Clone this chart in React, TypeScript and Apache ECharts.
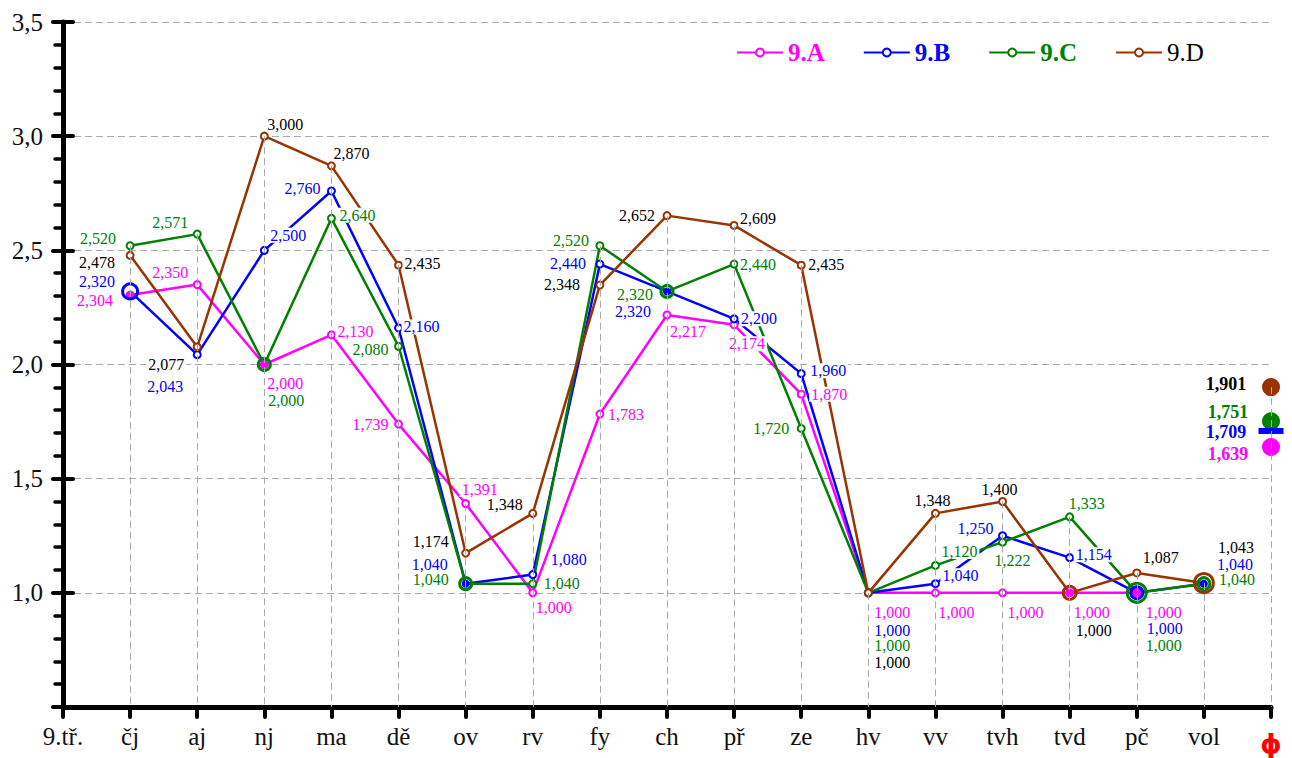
import React, { useEffect, useRef } from 'react';
import * as echarts from 'echarts';

const FONT = 'Liberation Serif';

const categories = ['9.tř.', 'čj', 'aj', 'nj', 'ma', 'dě', 'ov', 'rv', 'fy', 'ch', 'př', 'ze', 'hv', 'vv', 'tvh', 'tvd', 'pč', 'vol', 'ϕ'];
const subjects = ['čj', 'aj', 'nj', 'ma', 'dě', 'ov', 'rv', 'fy', 'ch', 'př', 'ze', 'hv', 'vv', 'tvh', 'tvd', 'pč', 'vol'];
const avgCategory = 'ϕ';

const classA: (number | null)[] = [2.304, 2.350, 2.000, 2.130, 1.739, 1.391, 1.000, 1.783, 2.217, 2.174, 1.870, 1.000, 1.000, 1.000, 1.000, 1.000, null];
const classB: (number | null)[] = [2.320, 2.043, 2.500, 2.760, 2.160, 1.040, 1.080, 2.440, 2.320, 2.200, 1.960, 1.000, 1.040, 1.250, 1.154, 1.000, 1.040];
const classC: (number | null)[] = [2.520, 2.571, 2.000, 2.640, 2.080, 1.040, 1.040, 2.520, 2.320, 2.440, 1.720, 1.000, 1.120, 1.222, 1.333, 1.000, 1.040];
const classD: (number | null)[] = [2.478, 2.077, 3.000, 2.870, 2.435, 1.174, 1.348, 2.348, 2.652, 2.609, 2.435, 1.000, 1.348, 1.400, 1.000, 1.087, 1.043];

const classNames = ['9.A', '9.B', '9.C', '9.D'];
const averages = [1.639, 1.709, 1.751, 1.901];

// ---- styles (positions of labels, marker styles) ----
const lineColors = ['#ff00ff', '#0000ff', '#008000', '#993300'];
const labelColors = ['#ff00ff', '#0000ff', '#008000', '#000000'];

const offA: ([number, number] | null)[] = [[-35, 5], [-27, -12], [21, 19], [24, -3], [-28, 0], [14, -14], [21, 15], [26, 0], [21, 17], [13, 19], [28, 0], [24, 20], [21, 20], [23, 20], [22, 20], [27, 20], null];
const offB: ([number, number] | null)[] = [[-33, -10], [-32, 32], [24, -15], [-29, -2], [23, -1], [-36, -19], [36, -15], [-32, -1], [-34, 20], [25, 0], [27, -3], [24, 38], [25, -8], [-27, -7], [24, -3], [28, 36], [31, -19]];
const offC: ([number, number] | null)[] = [[-32, -7], [-27, -12], [22, 36], [26, -3], [-28, 3], [-35, -4], [29, 0], [-29, -5], [-32, 3], [24, 0], [-30, 0], [24, 53], [24, -14], [10, 18], [17, -13], [27, 53], [33, -4]];
const offD: ([number, number] | null)[] = [[-33, 7], [-31, 18], [21, -12], [20, -12], [24, -2], [-35, -12], [-28, -9], [-38, -1], [-30, 0], [24, -7], [25, -1], [24, 70], [-3, -13], [-3, -12], [24, 38], [24, -15], [32, -36]];
const avgOffsets: [number, number][] = [[-43, 7], [-45, 1], [-43, -9], [-45, -3]];

type Mark = [string, number];
const markA: Record<string, Mark> = { 'čj': ['dot', 9], 'nj': ['dot', 9], 'tvd': ['dot', 9], 'pč': ['dot', 9] };
const markB: Record<string, Mark> = { 'čj': ['ring', 15], 'ov': ['dot', 8], 'ch': ['dot', 8], 'pč': ['ring', 12], 'vol': ['dot', 8] };
const markC: Record<string, Mark> = { 'nj': ['ring', 12], 'ov': ['ring', 12], 'ch': ['ring', 12], 'pč': ['ring', 19], 'vol': ['ring', 12] };
const markD: Record<string, Mark> = { 'tvd': ['ring', 13], 'vol': ['ring', 19] };

const fmt = (v: number) => v.toFixed(3).replace('.', ',');

function buildOption() {
  const all = [classA, classB, classC, classD];
  const offs = [offA, offB, offC, offD];
  const marks = [markA, markB, markC, markD];

  const lineSeries = all.map((vals, k) => {
    const color = lineColors[k];
    const data: any[] = [];
    subjects.forEach((s, i) => {
      const v = vals[i];
      if (v == null) return;
      const m = marks[k][s];
      if (!m) {
        data.push({ value: [s, v] });
      } else if (m[0] === 'dot') {
        data.push({ value: [s, v], symbol: 'circle', symbolSize: m[1], itemStyle: { color, borderWidth: 0 } });
      } else {
        data.push({ value: [s, v], symbol: 'circle', symbolSize: m[1], itemStyle: { color: 'rgba(255,255,255,0)', borderColor: color, borderWidth: 3 } });
      }
    });
    return {
      type: 'line',
      name: classNames[k],
      z: 2,
      data,
      symbol: 'emptyCircle',
      symbolSize: 7,
      lineStyle: { width: 2.5, color },
      itemStyle: { color },
      emphasis: { disabled: true },
      silent: true,
      animation: false,
    };
  });

  const labelSeries = all.map((vals, k) => {
    const data: any[] = [];
    subjects.forEach((s, i) => {
      const v = vals[i];
      if (v == null) return;
      data.push({ value: [s, v], label: { offset: offs[k][i] || [0, 0] } });
    });
    return {
      type: 'scatter',
      name: classNames[k] + ' labels',
      z: 3,
      silent: true,
      symbolSize: 1,
      itemStyle: { color: 'rgba(0,0,0,0)', opacity: 1 },
      data,
      label: {
        show: true,
        position: 'inside',
        formatter: (p: any) => fmt(p.value[1]),
        color: labelColors[k],
        fontSize: 16,
        fontFamily: FONT,
        backgroundColor: '#fff',
        padding: [0, 2],
        lineHeight: 15,
      },
      emphasis: { disabled: true },
      animation: false,
    };
  });

  // drop lines from highest value at each category to the x axis
  const drops: any[] = [];
  subjects.forEach((s, i) => {
    const vs = all.map((a) => a[i]).filter((v) => v != null) as number[];
    const mx = Math.max(...vs);
    const idx = categories.indexOf(s);
    drops.push([{ coord: [idx, mx] }, { coord: [idx, 0.5] }]);
  });
  const avgIdx = categories.indexOf(avgCategory);
  drops.push([{ coord: [avgIdx, Math.max(...averages)] }, { coord: [avgIdx, 0.5] }]);

  const dropSeries = {
    type: 'line',
    name: 'drop',
    z: 1,
    data: [],
    silent: true,
    markLine: {
      silent: true,
      symbol: ['none', 'none'],
      label: { show: false },
      lineStyle: { color: '#aaaaaa', width: 1, type: [7, 4] },
      emphasis: { disabled: true },
      animation: false,
      data: drops,
    },
    animation: false,
  };

  const avgOrder = [3, 2, 0, 1];
  const avgSeries = {
    type: 'scatter',
    name: 'avg',
    z: 4,
    silent: true,
    data: avgOrder.map((k) => ({
      value: [avgCategory, averages[k]],
      symbol: k === 1 ? 'rect' : 'circle',
      symbolSize: k === 1 ? [25, 6] : 18,
      itemStyle: { color: lineColors[k], opacity: 1 },
      label: { offset: avgOffsets[k], color: labelColors[k] },
    })),
    itemStyle: { opacity: 1 },
    label: {
      show: true,
      position: 'inside',
      formatter: (p: any) => fmt(p.value[1]),
      fontSize: 18,
      fontWeight: 'bold',
      fontFamily: FONT,
    },
    emphasis: { disabled: true },
    animation: false,
  };

  return {
    animation: false,
    backgroundColor: '#ffffff',
    textStyle: { fontFamily: FONT },
    grid: { left: 63, right: 21, top: 22, bottom: 51, containLabel: false },
    legend: {
      data: [
        { name: '9.A', textStyle: { color: lineColors[0], fontWeight: 'bold' } },
        { name: '9.B', textStyle: { color: lineColors[1], fontWeight: 'bold' } },
        { name: '9.C', textStyle: { color: lineColors[2], fontWeight: 'bold' } },
        { name: '9.D', textStyle: { color: '#000', fontWeight: 'normal' } },
      ],
      left: 731,
      top: 35,
      itemWidth: 46,
      itemHeight: 10,
      itemGap: 38,
      selectedMode: false,
      textStyle: { fontSize: 25, fontFamily: FONT },
    },
    xAxis: {
      type: 'category',
      data: categories,
      boundaryGap: false,
      axisLine: { show: true, lineStyle: { color: '#000', width: 5 } },
      axisTick: { show: true, interval: 0, length: 10, lineStyle: { color: '#000', width: 4, cap: 'round' } },
      axisLabel: {
        interval: 0,
        fontSize: 25,
        color: '#111',
        fontFamily: FONT,
        margin: 17,
        formatter: (v: string) => (v === avgCategory ? '{phi|' + v + '}' : v),
        rich: { phi: { color: '#ff0000', fontWeight: 'bold', fontSize: 27, fontFamily: 'DejaVu Sans', padding: [6, 0, 0, 0] } },
      },
      splitLine: { show: false },
    },
    yAxis: [
      {
        type: 'value',
        min: 0.5,
        max: 3.5,
        interval: 0.5,
        axisLine: { show: true, lineStyle: { color: '#000', width: 5 } },
        axisTick: { show: true, length: 10, lineStyle: { color: '#000', width: 4, cap: 'round' } },
        minorTick: { show: true, splitNumber: 5, length: 8, lineStyle: { color: '#000', width: 3.5, cap: 'round' } },
        axisLabel: {
          fontSize: 25,
          color: '#111',
          fontFamily: FONT,
          margin: 20,
          formatter: (v: number) => (Math.abs(v - 0.5) < 1e-9 ? '' : v.toFixed(1).replace('.', ',')),
        },
        splitLine: { show: true, lineStyle: { color: '#aaaaaa', width: 1, type: [7, 4] } },
      },
      {
        type: 'value',
        min: 0.5,
        max: 3.5,
        interval: 0.5,
        position: 'left',
        axisLine: { show: false },
        axisTick: { show: true, inside: true, length: 10, lineStyle: { color: '#000', width: 4, cap: 'round' } },
        axisLabel: { show: false },
        splitLine: { show: false },
      },
    ],
    series: [dropSeries, ...lineSeries, ...labelSeries, avgSeries],
  };
}

export default function App() {
  const ref = useRef<HTMLDivElement>(null);
  useEffect(() => {
    if (!ref.current) return;
    const chart = echarts.init(ref.current, null, { renderer: 'svg' });
    chart.setOption(buildOption() as any);
    return () => chart.dispose();
  }, []);
  return (
    <div
      ref={ref}
      style={{ position: 'fixed', left: 0, top: 0, width: 1292, height: 758, background: '#fff' }}
    />
  );
}
